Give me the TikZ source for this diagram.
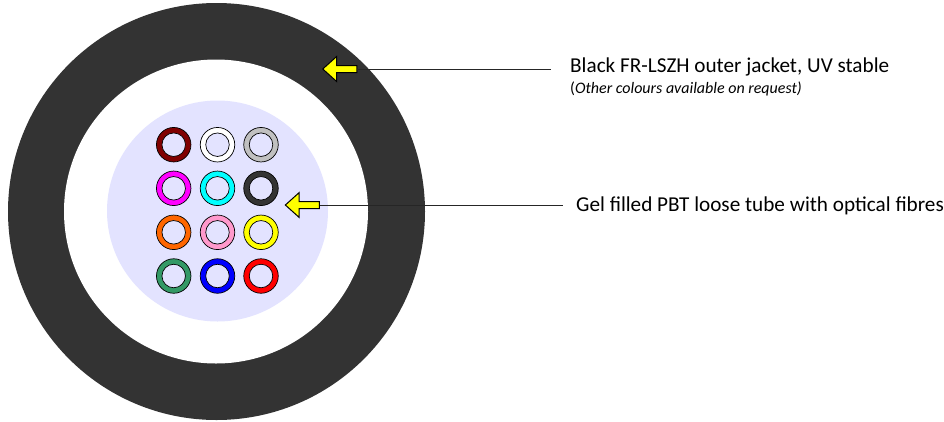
\documentclass[tikz,border=0pt]{standalone}
\usepackage{fontspec}
\setmainfont{Carlito}
\usetikzlibrary{shapes.arrows}
\definecolor{jacket}{HTML}{333333}
\definecolor{tube}{HTML}{E3E3FF}
\definecolor{tMaroon}{HTML}{800000}
\definecolor{tGrey}{HTML}{C0C0C0}
\definecolor{tMagenta}{HTML}{FF00FF}
\definecolor{tCyan}{HTML}{00FFFF}
\definecolor{tOrange}{HTML}{FF6600}
\definecolor{tPink}{HTML}{FF99CC}
\definecolor{tYellow}{HTML}{FFFF00}
\definecolor{tGreen}{HTML}{339966}
\definecolor{tBlue}{HTML}{0000FF}
\definecolor{tRed}{HTML}{FF0000}
\tikzset{
  disc/.style={circle,inner sep=0pt,minimum size=#1},
  ringouter/.style={circle,draw=black,line width=0.7pt,inner sep=0pt,minimum size=34.5pt,fill=#1},
  ringinner/.style={circle,draw=black,line width=0.7pt,inner sep=0pt,minimum size=23.5pt,fill=tube},
  pointer/.style={single arrow,draw=black,line width=1pt,fill=tYellow,shape border rotate=180,
    inner xsep=0pt,inner ysep=3pt,minimum height=34pt,minimum width=23.5pt,
    single arrow head extend=9pt,single arrow tip angle=84,single arrow head indent=0pt},
  leader/.style={draw=black!85,line width=0.7pt},
  caption/.style={anchor=base west,inner sep=0pt,font=\fontsize{21.2}{25}\selectfont},
  note/.style={anchor=base west,inner sep=0pt,font=\fontsize{16}{19}\selectfont},
}
\begin{document}
\begin{tikzpicture}[x=1pt,y=-1pt]
\useasboundingbox (0,0) rectangle (944,421);
\node[disc=417pt,fill=jacket] (jacket) at (216.5,211.5) {};
\node[disc=304pt,fill=white] (gap) at (216,211.5) {};
\node[disc=221pt,fill=tube] (core) at (217.5,211) {};
\foreach \n/\x/\y/\c in {
  a/173.7/144.7/tMaroon, b/217.5/144.7/white, c/261/144.7/tGrey,
  d/173.7/188.3/tMagenta, e/217.5/188.3/tCyan, f/261/188.3/jacket,
  g/173.7/232.3/tOrange, h/217.5/232.3/tPink, i/261/232.3/tYellow,
  j/173.7/276/tGreen, k/217.5/276/tBlue, l/261/276/tRed}{
  \node[ringouter=\c] (\n o) at (\x,\y) {};
  \node[ringinner] (\n i) at (\x,\y) {};
}
\coordinate (endA) at (551,69);
\coordinate (endB) at (563,205);
\node[pointer] (arrowA) at (341.7,69) {};
\node[pointer] (arrowB) at (304.3,205) {};
\draw[leader] (arrowA.east) -- (endA);
\draw[leader] (arrowB.east) -- (endB);
\node[caption] (labelA) at (570,72.3) {Black FR-LSZH outer jacket, UV stable};
\node[note] (labelN) at (570,93.3) {(\textit{Other colours available on request)}};
\node[caption] (labelB) at (576,211.3) {Gel filled PBT loose tube with optical fibres};
\end{tikzpicture}
\end{document}
